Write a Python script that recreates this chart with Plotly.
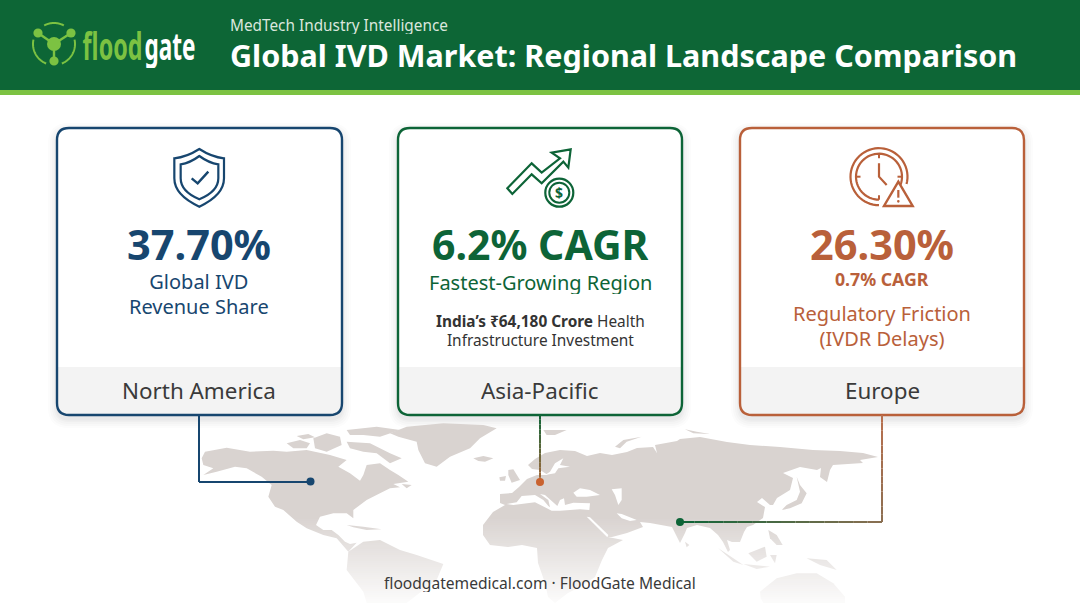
import math
import plotly.graph_objects as go

# ---------- content ----------
HEADER_KICKER = "MedTech Industry Intelligence"
HEADER_TITLE = "Global IVD Market: Regional Landscape Comparison"
FOOTER = "floodgatemedical.com · FloodGate Medical"
REGIONS = ["North America", "Asia-Pacific", "Europe"]
HEADLINES = ["37.70%", "6.2% CAGR", "26.30%"]
CARD_LEFT = [57, 398, 740]
CARD_RIGHT = [342, 682, 1024]
CARD_COLORS = ["#17466f", "#0d6437", "#b9603a"]
DARK = "#3a3a3a"
MAP_COLOR = "#d9d3d0"
GREEN = "#0d6636"
LIME = "#7cc242"

# ---------- map outlines: (origin, scale 3 points) ----------
O4, O5, O7 = (150, 410), (600, 410), (480, 420)
NORTH_AMERICA = [(165,125),(230,113),(300,125),(370,122),(410,125),(470,120),(540,135),(590,150),(565,170),(600,190),(630,212),(640,195),(650,165),(690,160),(720,180),(745,195),(775,215),(730,222),(750,232),(720,235),(690,250),(650,270),(610,300),(610,325),(590,310),(550,310),(510,320),(498,345),(520,360),(545,360),(565,375),(585,395),(600,402),(620,398),(595,425),(560,385),(520,375),(470,355),(440,335),(400,300),(375,290),(355,260),(365,225),(335,200),(290,175),(255,170),(200,185),(160,195),(190,175),(160,165),(155,145)]
NEWFOUNDLAND = [(755,222),(785,225),(770,235)]
SOUTH_AMERICA = [(595,425),(640,395),(690,390),(750,420),(800,435),(880,462),(860,510),(820,540),(770,579),(650,579),(640,545),(590,480)]
GREENLAND = [(720,70),(770,50),(880,40),(1000,45),(1040,55),(990,85),(960,115),(900,140),(860,170),(825,160),(805,120),(800,95),(745,80)]
BAFFIN = [(590,95),(660,100),(720,130),(755,145),(720,160),(680,130),(640,125),(600,115)]
ELLESMERE = [(590,60),(680,50),(750,60),(690,80),(640,75),(600,75)]
ARCTIC_A = [(410,100),(450,90),(480,100),(470,115),(430,115)]
ARCTIC_B = [(490,85),(530,70),(570,80),(575,105),(530,125),(495,115)]
ARCTIC_C = [(440,78),(475,72),(495,82),(460,88)]
ICELAND = [(970,145),(1000,138),(1030,145),(1005,155),(985,153)]
CUBA = [(590,345),(640,350),(695,358),(650,360),(610,352)]
AFRO_EURASIA = [(500,494),(500,503),(505,505),(493,512),(483,525),(483,535),(490,545),(508,547),(522,545),(537,548),(538,563),(545,583),(548,597),(555,603),(568,593),(580,587),(595,577),(602,560),(608,548),(623,540),(608,537),(612,537),(627,533),(643,527),(640,522),(650,523),(672,527),(680,543),(685,533),(687,528),(697,525),(710,528),(718,535),(723,542),(728,552),(730,550),(727,540),(732,542),(740,542),(744,532),(747,527),(753,525),(763,518),(765,507),(757,502),(762,498),(770,505),(773,505),(777,498),(790,490),(793,478),(783,473),(800,467),(817,470),(821,468),(820,477),(827,482),(830,470),(833,465),(863,463),(860,460),(878,457),(863,453),(840,451),(813,450),(780,447),(750,445),(727,442),(700,437),(680,439),(677,441),(655,445),(657,453),(653,447),(637,448),(627,452),(612,455),(600,453),(587,456),(575,451),(560,450),(545,453),(535,459),(528,465),(532,469),(540,470),(548,475),(537,475),(527,479),(519,487),(512,493)]
GREAT_BRITAIN = [(85,150),(100,148),(120,180),(95,188),(85,165)]
IRELAND = [(58,172),(78,168),(75,182),(60,182)]
SVALBARD = [(190,30),(215,30),(260,30),(225,45),(200,45)]
NOVAYA = [(405,80),(430,60),(485,50),(440,65),(420,85)]
SIBERIA_ISLES = [(615,28),(650,35),(690,42),(640,40)]
JAPAN = [(590,200),(600,225),(620,250),(605,280),(570,295),(545,300),(560,285),(590,270),(600,245)]
SRI_LANKA = [(255,395),(268,405),(260,412)]
PHILIPPINES = [(505,360),(530,375),(548,405),(530,405),(510,385)]
BORNEO = [(445,430),(495,410),(500,440),(470,455)]
SUMATRA = [(355,415),(400,445),(430,465),(400,455)]
JAVA = [(430,462),(510,470),(470,477)]
SULAWESI = [(510,435),(530,435),(525,460)]
NEW_GUINEA = [(620,445),(680,450),(710,480),(660,465)]
AUSTRALIA = [(480,545),(530,505),(590,490),(650,490),(700,520),(735,560),(735,579),(490,579),(482,565)]
BALTIC = [(195,165),(225,160),(235,145),(270,140),(240,135),(250,115),(225,130),(210,155)]
MEDITERRANEAN = [(80,252),(110,247),(125,228),(165,225),(190,240),(205,258),(210,262),(205,240),(180,222),(195,225),(232,258),(240,240),(252,235),(255,255),(280,248),(330,250),(328,270),(300,268),(240,272),(215,272),(165,247),(100,255)]
BLACK_SEA = [(280,218),(300,205),(330,210),(360,225),(320,230),(290,230)]
CASPIAN = [(395,208),(425,205),(425,240),(415,255),(405,225)]
RED_SEA = [(320,290),(330,292),(385,345),(382,352)]
PERSIAN_GULF = [(410,280),(425,282),(470,300),(450,303),(425,295)]
BAJA_GULF = [(395,305),(402,305),(422,335),(415,335)]

LAND = [(O4,NORTH_AMERICA),(O4,NEWFOUNDLAND),(O4,SOUTH_AMERICA),(O4,GREENLAND),(O4,BAFFIN),(O4,ELLESMERE),(O4,ARCTIC_A),(O4,ARCTIC_B),(O4,ARCTIC_C),(O4,ICELAND),(O4,CUBA),
        ((0,0,1),AFRO_EURASIA),(O7,GREAT_BRITAIN),(O7,IRELAND),(O7,SVALBARD),(O7,NOVAYA),(O7,SIBERIA_ISLES),
        (O5,JAPAN),(O5,SRI_LANKA),(O5,PHILIPPINES),(O5,BORNEO),(O5,SUMATRA),(O5,JAVA),(O5,SULAWESI),(O5,NEW_GUINEA),(O5,AUSTRALIA)]
WATER = [(O7,BALTIC),(O7,MEDITERRANEAN),(O7,BLACK_SEA),(O7,CASPIAN),(O7,RED_SEA),(O7,PERSIAN_GULF),(O4,BAJA_GULF)]

# ---------- helpers ----------
def pts(origin, poly):
    s = origin[2] if len(origin) > 2 else 3
    return [(origin[0] + x / s, origin[1] + y / s) for x, y in poly]

def trace_of(origin, polygon, color):
    q = pts(origin, polygon)
    q.append(q[0])
    return go.Scatter(x=[a for a, _ in q], y=[b for _, b in q], mode="lines", fill="toself", fillcolor=color,
                      line=dict(width=0, color=color, simplify=False), hoverinfo="skip", showlegend=False)

def rrect(x0, y0, x1, y1, r, round_top=True):
    rt = r if round_top else 0
    return (f"M{x0+rt},{y0} L{x1-rt},{y0} Q{x1},{y0} {x1},{y0+rt} L{x1},{y1-r} Q{x1},{y1} {x1-r},{y1} "
            f"L{x0+r},{y1} Q{x0},{y1} {x0},{y1-r} L{x0},{y0+rt} Q{x0},{y0} {x0+rt},{y0} Z")

def base(**k):
    d = dict(xref="x", yref="y")
    d.update(k)
    return d

def path(p, color=None, fill="rgba(0,0,0,0)", w=2.2, layer="below"):
    return base(type="path", path=p, line=dict(color=color or "rgba(0,0,0,0)", width=w), fillcolor=fill, layer=layer)

def rect(x0, y0, x1, y1, fill, layer="below"):
    return base(type="rect", x0=x0, y0=y0, x1=x1, y1=y1, fillcolor=fill, line=dict(width=0), layer=layer)

def circle(cx, cy, r, fill="rgba(0,0,0,0)", color=None, w=0, layer="below"):
    return base(type="circle", x0=cx-r, x1=cx+r, y0=cy-r, y1=cy+r, fillcolor=fill,
                line=dict(color=color or "rgba(0,0,0,0)", width=w), layer=layer)

def poly(points, close=False):
    return "M" + " L".join(f"{x:.2f},{y:.2f}" for x, y in points) + (" Z" if close else "")

def arc(cx, cy, r, a0, a1, n=48):
    return [(cx + r*math.cos(math.radians(a0 + (a1-a0)*i/n)), cy + r*math.sin(math.radians(a0 + (a1-a0)*i/n))) for i in range(n+1)]

def hex2(c):
    return [int(c[i:i+2], 16) for i in (1, 3, 5)]

def mix(a, b, t):
    A, B = hex2(a), hex2(b)
    return "rgb(%d,%d,%d)" % tuple(round(A[i] + (B[i]-A[i])*t) for i in range(3))

shapes = []
# header
shapes.append(rect(0, 0, 1080, 90, GREEN))
shapes.append(rect(0, 90, 1080, 95, LIME))

# logo
LOGO_C = (54, 44)
LOGO_NODES = [(38, 33), (71, 33), (54, 61)]
shapes.append(path(poly(arc(LOGO_C[0], LOGO_C[1], 21, -118, -62)), LIME, w=2))
shapes.append(path(poly(arc(LOGO_C[0], LOGO_C[1], 21, -12, 68)), LIME, w=2))
shapes.append(path(poly(arc(LOGO_C[0], LOGO_C[1], 21, 112, 192)), LIME, w=2))
for n in LOGO_NODES:
    shapes.append(path(poly([LOGO_C, n]), LIME, w=2.4))
    shapes.append(circle(n[0], n[1], 4.6, fill=LIME))
shapes.append(circle(LOGO_C[0], LOGO_C[1], 7, fill=LIME))

# cards
for x0, x1, col in zip(CARD_LEFT, CARD_RIGHT, CARD_COLORS):
    for g, a in zip([9, 7, 5, 3, 1.5], [0.014, 0.018, 0.02, 0.024, 0.028]):
        shapes.append(path(rrect(x0-g, 128-g+4, x1+g, 415+g+4, 12+g), fill=f"rgba(40,50,60,{a})", w=0))
    shapes.append(path(rrect(x0, 128, x1, 415, 12), fill="white", w=0))
    shapes.append(path(rrect(x0, 367, x1, 415, 12, round_top=False), fill="#f3f3f3", w=0))
    shapes.append(path(rrect(x0, 128, x1, 415, 12), color=col, w=2.4))

# shield icon
NAVY, GRN, ORG = CARD_COLORS
def z(ox, oy, p):
    return [(ox + x/3, oy + y/3) for x, y in p]
def qpath(ox, oy, top, tr, r, bot, l, tl):
    P = z(ox, oy, [top, tr, r, bot, l, tl])
    c = z(ox, oy, [((top[0]+tr[0])/2, tr[1]-4), (tr[0], (r[1]+bot[1])/2+8), (l[0], (l[1]+bot[1])/2+8), ((top[0]+tl[0])/2, tl[1]-4)])
    return (f"M{P[0][0]},{P[0][1]} Q{c[0][0]},{c[0][1]} {P[1][0]},{P[1][1]} L{P[2][0]},{P[2][1]} "
            f"Q{c[1][0]},{c[1][1]} {P[3][0]},{P[3][1]} Q{c[2][0]},{c[2][1]} {P[4][0]},{P[4][1]} "
            f"L{P[5][0]},{P[5][1]} Q{c[3][0]},{c[3][1]} {P[0][0]},{P[0][1]} Z")
shapes.append(path(qpath(150, 130, (148,57), (222,85), (222,145), (148,230), (73,145), (73,85)), NAVY, w=2.2))
shapes.append(path(qpath(150, 130, (148,78), (205,103), (205,145), (148,208), (92,145), (92,103)), NAVY, w=2.2))
shapes.append(path(poly(z(150, 130, [(125,145),(143,160),(175,125)])), NAVY, w=2.4))

# growth icon
shapes.append(path(poly(z(480, 130, [(82,175),(155,100),(185,128),(240,85),(215,68),(272,58),(265,113),(250,95),(185,160),(155,133),(97,192)]), True), GRN, w=2.2))
COIN = (559.3, 192.7)
shapes.append(circle(COIN[0], COIN[1], 14, color=GRN, w=2.2, fill="white"))
shapes.append(circle(COIN[0], COIN[1], 10, color=GRN, w=2))

# clock icon
CL = (879, 176.7)
shapes.append(path(poly(arc(CL[0], CL[1], 28.5, 15, -270)), ORG, w=2.2))
shapes.append(path(poly(arc(CL[0], CL[1], 23, 20, -270)), ORG, w=2.2))
for a in [-90, 0, 90, 180]:
    c, s = math.cos(math.radians(a)), math.sin(math.radians(a))
    shapes.append(path(poly([(CL[0]+18.5*c, CL[1]+18.5*s), (CL[0]+23*c, CL[1]+23*s)]), ORG, w=2))
shapes.append(path(poly(z(830, 130, [(147,100),(147,140),(170,165)])), ORG, w=2.2))
shapes.append(path(poly(z(830, 130, [(205,155),(248,228),(162,228)]), True), ORG, fill="white", w=2.4))
shapes.append(path(poly(z(830, 130, [(205,180),(205,203)])), ORG, w=2.2))
shapes.append(circle(830+205/3, 130+214/3, 1.3, fill=ORG))

# fade of the map toward the page bottom
FADE_TOP, FADE_BOTTOM = 515, 603
for y in range(FADE_TOP, FADE_BOTTOM, 2):
    a = 0.92 * (y - FADE_TOP) / (FADE_BOTTOM - FADE_TOP)
    shapes.append(rect(0, y, 1080, y + 2, f"rgba(255,255,255,{a:.3f})", layer="above"))

# connectors
def seg(p0, p1, c0, c1, n=14):
    out = []
    for i in range(n):
        a, b = i/n, (i+1)/n
        out.append(base(type="line", x0=p0[0]+(p1[0]-p0[0])*a, y0=p0[1]+(p1[1]-p0[1])*a,
                        x1=p0[0]+(p1[0]-p0[0])*b, y1=p0[1]+(p1[1]-p0[1])*b,
                        line=dict(color=mix(c0, c1, (a+b)/2), width=2), layer="above"))
    return out
shapes += seg((199, 415), (199, 482), NAVY, NAVY, 1) + seg((199, 482), (310, 482), NAVY, NAVY, 1)
shapes += seg((540, 415), (540, 482), GRN, "#a9683c")
shapes += seg((882, 415), (882, 522), "#b9704f", "#8c6f52") + seg((882, 522), (680, 522), "#8c6f52", GRN)
shapes.append(circle(310.5, 481.5, 4, fill=NAVY, layer="above"))
shapes.append(circle(540, 482, 4, fill="#c9622f", layer="above"))
shapes.append(circle(680, 522, 4, fill=GRN, layer="above"))

# ---------- text ----------
SANS = "Noto Sans"
def label(x, y, text, size, color, anchor="center", bold=False, **extra):
    d = dict(x=x, y=y, xref="x", yref="y", text=f"<b>{text}</b>" if bold else text, showarrow=False,
             xanchor=anchor, yanchor="middle", height=round(size*1.2), borderpad=0,
             font=dict(family=SANS, size=size, color=color))
    d.update(extra)
    return d

def stack(x, y, lines, spacing, color):
    """Several lines in one text box; the box font sets the line pitch, spans set the glyph size."""
    text = "<br>".join(f"<span style='font-size:{s}px'>{t}</span>" for t, s in lines)
    return dict(x=x, y=y, xref="x", yref="y", text=text, showarrow=False, xanchor="center", yanchor="middle",
                borderpad=0, font=dict(family=SANS, size=spacing/1.3, color=color))

ann = [
    label(228.5, 25, HEADER_KICKER, 15.35, "#dbe7de", "left"),
    label(228.5, 54, HEADER_TITLE, 30.5, "white", "left", True),
    label(81, 45, "flood", 37, LIME, "left", True, width=61, height=46),
    label(143, 45, "gate", 37, "white", "left", True, width=52, height=46),
    label(199, 243.5, HEADLINES[0], 41.5, NAVY, bold=True, height=38),
    stack(199, 294, [("Global IVD", 20), ("Revenue Share", 20)], 24.5, NAVY),
    label(199, 390.5, REGIONS[0], 22.4, DARK),
    label(540, 243.5, HEADLINES[1], 41, GRN, bold=True, height=38),
    label(540, 282, "Fastest-Growing Region", 20, GRN),
    stack(540, 331, [("<b>India’s ₹64,180 Crore</b> Health", 15.4), ("Infrastructure Investment", 15.4)], 19, "#333333"),
    label(540, 390.5, REGIONS[1], 22.4, DARK),
    label(882, 243.5, HEADLINES[2], 41.5, ORG, bold=True, height=38),
    label(882, 278, "0.7% CAGR", 17.7, ORG, bold=True),
    stack(882, 326, [("Regulatory Friction", 20), ("(IVDR Delays)", 20)], 25, ORG),
    label(882, 390.5, REGIONS[2], 22.4, DARK),
    label(540, 582, FOOTER, 15.6, DARK),
    label(COIN[0], COIN[1], "$", 14, GRN, bold=True),
]

fig = go.Figure([trace_of(o, p, MAP_COLOR) for o, p in LAND] + [trace_of(o, p, "#ffffff") for o, p in WATER])
fig.update_layout(
    width=1080, height=603, margin=dict(l=0, r=0, t=0, b=0), autosize=False,
    paper_bgcolor="white", plot_bgcolor="white", showlegend=False,
    xaxis=dict(range=[0, 1080], visible=False, fixedrange=True),
    yaxis=dict(range=[603, 0], visible=False, fixedrange=True),
    shapes=shapes, annotations=ann,
)
SQUEEZE_WORDMARK = """
document.body.style.margin='0';document.body.style.overflow='hidden';
var fit={flood:'60',gate:'51'};
document.querySelectorAll('.annotation-text').forEach(function(t){
  var k=t.textContent;
  if (fit[k]) { t.setAttribute('textLength',fit[k]); t.setAttribute('lengthAdjust','spacingAndGlyphs'); }
});
"""
fig.write_html("out.html", config={"displayModeBar": False, "staticPlot": True}, post_script=SQUEEZE_WORDMARK)
